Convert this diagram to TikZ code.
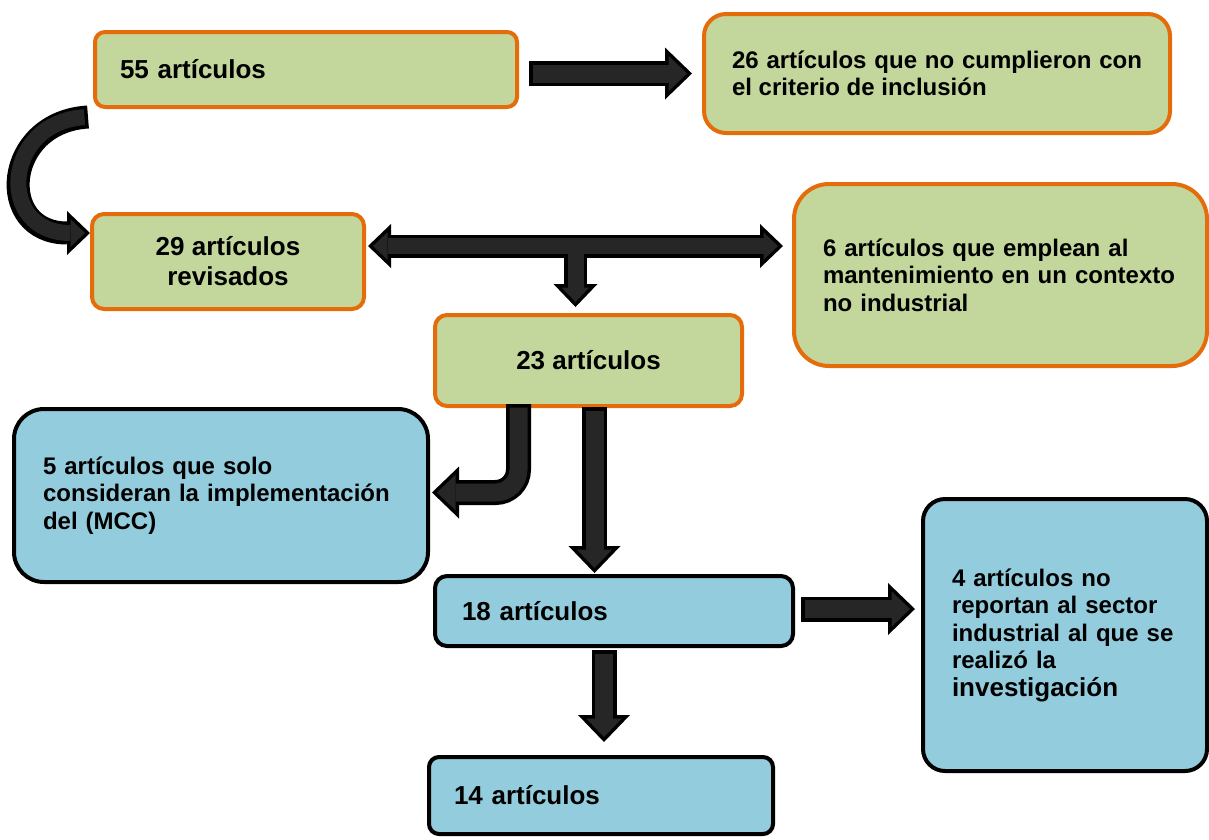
\documentclass[tikz,border=0pt]{standalone}
\usepackage{fontspec}
\setmainfont{Liberation Sans}
\usetikzlibrary{calc,arrows.meta}

\definecolor{greenfill}{HTML}{C3D69B}
\definecolor{orangeline}{HTML}{E46C0A}
\definecolor{bluefill}{HTML}{93CDDD}
\definecolor{arrowgray}{HTML}{262626}

\begin{document}
\begin{tikzpicture}
[x=1pt,y=-1pt,
greenbox/.style={draw=orangeline,fill=greenfill,line width=4pt,inner sep=0pt,font=\bfseries\fontsize{24}{27.5}\selectfont},
bluebox/.style={draw=black,fill=bluefill,line width=4pt,inner sep=0pt,font=\bfseries\fontsize{24}{27.5}\selectfont},
bigtext/.style={font=\bfseries\fontsize{26}{30}\selectfont},
blockarrow/.style={draw=black,line width=25pt,-{Triangle[length=27pt,width=52pt,line width=0pt]},
  postaction={draw=arrowgray,line width=18pt,shorten <=3.5pt,shorten >=5pt,-{Triangle[length=18.5pt,width=35.5pt,line width=0pt]}}},
smallarrow/.style={draw=black,line width=23pt,-{Triangle[length=23pt,width=44pt,line width=0pt]},
  postaction={draw=arrowgray,line width=16pt,shorten <=3.5pt,shorten >=5pt,-{Triangle[length=14.5pt,width=27.5pt,line width=0pt]}}},
smallboth/.style={draw=black,line width=23pt,{Triangle[length=23pt,width=44pt,line width=0pt]}-{Triangle[length=23pt,width=44pt,line width=0pt]},
  postaction={draw=arrowgray,line width=16pt,shorten <=5pt,shorten >=5pt,{Triangle[length=14.5pt,width=27.5pt,line width=0pt]}-{Triangle[length=14.5pt,width=27.5pt,line width=0pt]}}}]
\useasboundingbox (0,0) rectangle (1209,839);
% cajas
\node[greenbox,bigtext,rounded corners=10pt,minimum width=422pt,minimum height=75pt,text width=372pt,align=left] (n55) at (306,69.5) {55 artículos};
\node[greenbox,rounded corners=22pt,minimum width=466pt,minimum height=119pt,text width=410pt,align=justify] (n26) at (937,73.5) {26 artículos que no cumplieron con el criterio de inclusión};
\node[greenbox,bigtext,rounded corners=12pt,minimum width=272pt,minimum height=95pt,align=center] (n29) at (228,261.5) {29 artículos\\revisados};
\node[greenbox,rounded corners=35pt,minimum width=413pt,minimum height=182pt,text width=355pt,align=left] (n6) at (1000.5,275) {6 artículos que emplean al\\mantenimiento en un contexto\\no industrial};
\node[greenbox,bigtext,rounded corners=12pt,minimum width=307pt,minimum height=91pt,align=center] (n23) at (588.5,360.5) {23 artículos};
\node[bluebox,rounded corners=30pt,minimum width=414pt,minimum height=173pt,text width=356pt,align=left] (n5) at (221,495.5) {5 artículos que solo\\consideran la implementación\\del (MCC)};
\node[bluebox,bigtext,rounded corners=12pt,minimum width=358pt,minimum height=70pt,text width=304pt,align=left] (n18) at (614,611) {18 artículos};
\node[bluebox,rounded corners=22pt,minimum width=284pt,minimum height=272pt,text width=226pt,align=left] (n4) at (1065,635) {4 artículos no\\reportan al sector\\industrial al que se\\realizó la\\{\fontsize{26}{30}\selectfont investigación}};
\node[bluebox,bigtext,rounded corners=10pt,minimum width=344pt,minimum height=77pt,text width=294pt,align=left] (n14) at (601,795.5) {14 artículos};
% flechas
\coordinate (a1) at ($(n55.east)+(10,4)$);
\draw[blockarrow] (a1) -- ($(a1 -| n26.west)+(-10,0)$);
\coordinate (b1) at ($(n55.south west)+(-5,8)$);
\coordinate (b2) at ($(n29.north west)+(0,21)$);
\draw[smallarrow] (b1) .. controls +(-85,5) and +(-95,0) .. (b2);
\coordinate (c1) at ($(n29.north east)+(2,34)$);
\coordinate (c2) at ($(c1 -| n6.west)+(-9,0)$);
\coordinate (c3) at ($(c1)!0.5!(c2)$);
\draw[smallarrow] (c3) -- ($(c3 |- n23.north)+(0,-6)$);
\draw[smallboth] (c1) -- (c2);
\draw[arrowgray,line width=16pt] (c3) -- ++(0,17);
\coordinate (d1) at ($(n23.south)+(-70,-4)$);
\coordinate (d2) at ($(n5.east)+(2,-3)$);
\draw[blockarrow,rounded corners=23pt] (d1) |- (d2);
\coordinate (e1) at ($(n23.south)+(6,-1)$);
\draw[blockarrow] (e1) -- ($(e1 |- n18.north)+(0,-1)$);
\coordinate (f1) at ($(n18.east)+(6,-2)$);
\draw[blockarrow] (f1) -- ($(f1 -| n4.west)+(-6,0)$);
\coordinate (g1) at ($(n18.south)+(-10,2)$);
\draw[blockarrow] (g1) -- ($(g1 |- n14.north)+(0,-13)$);
\end{tikzpicture}
\end{document}
